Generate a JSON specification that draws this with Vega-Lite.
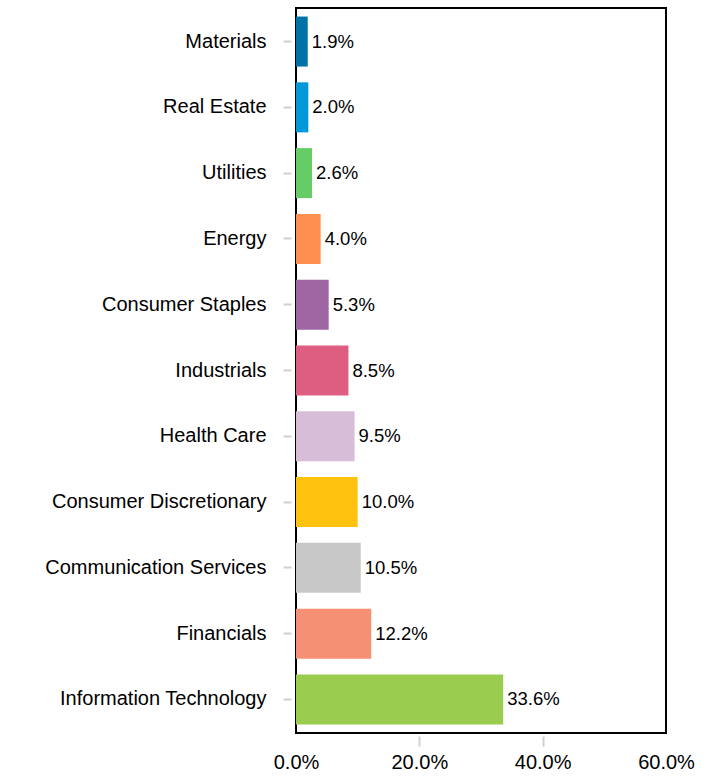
{
  "$schema": "https://vega.github.io/schema/vega-lite/v6.json",
  "width": 370,
  "height": 725,
  "autosize": {"type": "none"},
  "padding": {"left": 296, "top": 8, "right": 43, "bottom": 44},
  "background": "white",
  "config": {
    "view": {"stroke": "black", "strokeWidth": 2},
    "font": "Liberation Sans"
  },
  "data": {
    "values": [
      {"sector": "Materials", "value": 1.9},
      {"sector": "Real Estate", "value": 2.0},
      {"sector": "Utilities", "value": 2.6},
      {"sector": "Energy", "value": 4.0},
      {"sector": "Consumer Staples", "value": 5.3},
      {"sector": "Industrials", "value": 8.5},
      {"sector": "Health Care", "value": 9.5},
      {"sector": "Consumer Discretionary", "value": 10.0},
      {"sector": "Communication Services", "value": 10.5},
      {"sector": "Financials", "value": 12.2},
      {"sector": "Information Technology", "value": 33.6}
    ]
  },
  "encoding": {
    "y": {
      "field": "sector",
      "type": "nominal",
      "sort": ["Materials", "Real Estate", "Utilities", "Energy", "Consumer Staples", "Industrials", "Health Care", "Consumer Discretionary", "Communication Services", "Financials", "Information Technology"],
      "scale": {"paddingInner": 0.24, "paddingOuter": 0.13},
      "axis": {
        "title": null,
        "domain": false,
        "offset": 5,
        "tickSize": 8,
        "tickColor": "#d0d0d0",
        "tickWidth": 2,
        "labelPadding": 17,
        "labelFontSize": 20,
        "labelLimit": 0,
        "labelColor": "black",
        "labelFont": "Liberation Sans"
      }
    },
    "x": {
      "field": "value",
      "type": "quantitative",
      "scale": {"domain": [0, 60], "nice": false},
      "axis": {
        "title": null,
        "domain": false,
        "grid": false,
        "values": [0, 20, 40, 60],
        "labelExpr": "format(datum.value, '.1f') + '%'",
        "offset": 3,
        "tickSize": 10,
        "tickWidth": 2,
        "tickColor": {"condition": {"test": "datum.value == 0 || datum.value == 60", "value": "transparent"}, "value": "#d0d0d0"},
        "labelPadding": 6,
        "labelFontSize": 20,
        "labelColor": "black",
        "labelFont": "Liberation Sans",
        "labelFlush": false
      }
    }
  },
  "layer": [
    {
      "mark": {"type": "bar"},
      "encoding": {
        "color": {
          "field": "sector",
          "type": "nominal",
          "legend": null,
          "scale": {
            "domain": ["Materials", "Real Estate", "Utilities", "Energy", "Consumer Staples", "Industrials", "Health Care", "Consumer Discretionary", "Communication Services", "Financials", "Information Technology"],
            "range": ["#0072A8", "#0098D8", "#66CC66", "#FF8F50", "#A066A3", "#DD5E80", "#D7BDD7", "#FFC20E", "#C8C8C8", "#F59075", "#99CC4F"]
          }
        }
      }
    },
    {
      "mark": {"type": "text", "align": "left", "baseline": "middle", "dx": 4, "fontSize": 18.5, "color": "black", "font": "Liberation Sans", "text": {"expr": "format(datum.value, '.1f') + '%'"}},
      "encoding": {}
    }
  ]
}
